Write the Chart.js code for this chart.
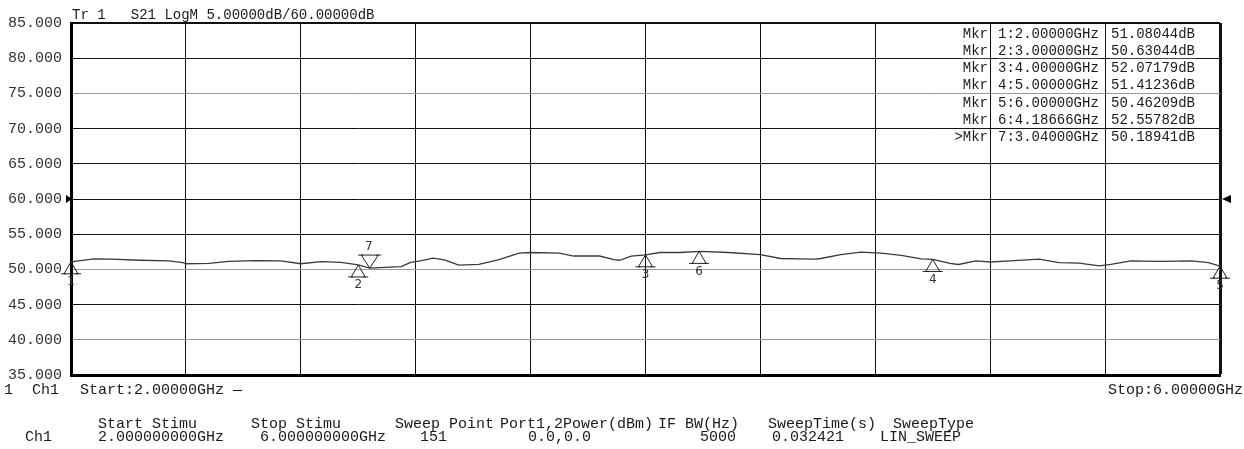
<!DOCTYPE html>
<html>
<head>
<meta charset="utf-8">
<script src="https://cdn.jsdelivr.net/npm/chart.js@4/dist/chart.umd.min.js"></script>
<style>
  html, body { margin: 0; padding: 0; background: #fff; }
  canvas { display: block; }
</style>
</head>
<body>
<canvas id="vnaChart" width="1244" height="449"></canvas>
<script>
// trace S21 (GHz / dB)
const freqGHz = [2.00, 2.08, 2.14, 2.24, 2.34, 2.39, 2.40, 2.48, 2.55, 2.64, 2.73, 2.80, 2.87, 2.94, 3.00, 3.04,
  3.11, 3.15, 3.18, 3.22, 3.26, 3.30, 3.35, 3.42, 3.49, 3.56, 3.60, 3.70, 3.75, 3.84, 3.89, 3.91, 3.95, 4.00,
  4.05, 4.12, 4.19, 4.29, 4.40, 4.47, 4.54, 4.59, 4.61, 4.68, 4.75, 4.82, 4.89, 4.96, 5.00, 5.06, 5.09, 5.15,
  5.20, 5.27, 5.37, 5.44, 5.51, 5.58, 5.62, 5.69, 5.79, 5.90, 5.96, 6.00];
const traceDb = [51.08, 51.5, 51.45, 51.3, 51.2, 50.95, 50.8, 50.85, 51.15, 51.25, 51.2, 50.8, 51.1, 51.0, 50.63, 50.19,
  50.33, 50.4, 50.95, 51.25, 51.6, 51.35, 50.6, 50.7, 51.4, 52.3, 52.4, 52.3, 51.9, 51.9, 51.4, 51.3, 51.9, 52.07,
  52.4, 52.4, 52.56, 52.4, 52.1, 51.55, 51.5, 51.45, 51.55, 52.1, 52.45, 52.3, 52.0, 51.5, 51.41, 50.85, 50.7, 51.2,
  51.05, 51.2, 51.45, 50.95, 50.9, 50.5, 50.7, 51.2, 51.15, 51.2, 50.95, 50.46];

// markers
const markerNums = [1, 2, 3, 4, 5, 6, 7];
const markerFreq = [2.0, 3.0, 4.0, 5.0, 6.0, 4.18666, 3.04];
const markerDb = [51.08044, 50.63044, 52.07179, 51.41236, 50.46209, 52.55782, 50.18941];
const activeMarker = 7;

// axes
const yMin = 35, yMax = 85, yStep = 5;
const xMin = 2, xMax = 6, xStep = 0.4;
const refLevel = 60;

const titleText = 'Tr 1   S21 LogM 5.00000dB/60.00000dB';
const startText = 'Start:2.00000GHz —';
const stopText = 'Stop:6.00000GHz';
const infoHeads = ['Start Stimu', 'Stop Stimu', 'Sweep Point', 'Port1,2Power(dBm)', 'IF BW(Hz)', 'SweepTime(s)', 'SweepType'];
const infoVals = ['2.000000000GHz', '6.000000000GHz', '151', '0.0,0.0', '5000', '0.032421', 'LIN_SWEEP'];

const MONO = '"Liberation Mono", "DejaVu Sans Mono", monospace';
const lightRows = [75, 50, 40];

function triangle(ctx, x, y, w, h, up) {
  // apex sits on (x, y)
  const d = up ? 1 : -1;
  ctx.beginPath();
  ctx.moveTo(x, y);
  ctx.lineTo(x - w / 2, y + d * h);
  ctx.lineTo(x + w / 2, y + d * h);
  ctx.closePath();
  ctx.stroke();
  ctx.beginPath();
  ctx.moveTo(x - w / 2 - 3, y + d * h);
  ctx.lineTo(x - w / 2 + 2, y + d * h);
  ctx.moveTo(x + w / 2 - 2, y + d * h);
  ctx.lineTo(x + w / 2 + 3, y + d * h);
  ctx.stroke();
}

const vnaPlugin = {
  id: 'vna',
  beforeDraw(chart) {
    const ctx = chart.ctx;
    ctx.save();
    ctx.fillStyle = '#fff';
    ctx.fillRect(0, 0, chart.width, chart.height);
    ctx.restore();
  },
  afterDatasetsDraw(chart) {
    const ctx = chart.ctx;
    const xs = chart.scales.x, ys = chart.scales.y;
    const area = chart.chartArea;
    ctx.save();

    // marker triangles + numbers
    ctx.strokeStyle = '#222';
    ctx.lineWidth = 1;
    ctx.fillStyle = '#333';
    ctx.font = '12px "DejaVu Sans", sans-serif';
    ctx.textAlign = 'center';
    ctx.textBaseline = 'middle';
    markerNums.forEach((n, i) => {
      const px = xs.getPixelForValue(markerFreq[i]);
      const py = ys.getPixelForValue(markerDb[i]);
      if (n === activeMarker) {
        triangle(ctx, px, py, 17, 13, false);
        ctx.fillText(String(n), px - 1, py - 21);
      } else {
        triangle(ctx, px, py, 14, 12, true);
        ctx.fillText(String(n), px, py + 20);
      }
    });

    // reference level arrows
    const ry = ys.getPixelForValue(refLevel);
    ctx.fillStyle = '#000';
    ctx.beginPath();
    ctx.moveTo(area.left + 1, ry);
    ctx.lineTo(area.left - 5, ry - 4);
    ctx.lineTo(area.left - 5, ry + 4);
    ctx.closePath();
    ctx.fill();
    ctx.beginPath();
    ctx.moveTo(area.right + 2, ry);
    ctx.lineTo(area.right + 11, ry - 4);
    ctx.lineTo(area.right + 11, ry + 4);
    ctx.closePath();
    ctx.fill();

    // title
    ctx.fillStyle = '#1a1a1a';
    ctx.textAlign = 'left';
    ctx.font = '14px ' + MONO;
    ctx.fillText(titleText, area.left + 1, 15);

    // marker table (white boxes hide the grid)
    markerNums.forEach((n, i) => {
      const ty = 34 + i * 17.2;
      const label = (n === activeMarker ? '>' : '') + 'Mkr';
      const stim = n + ':' + markerFreq[i].toFixed(5) + 'GHz';
      const resp = markerDb[i].toFixed(5) + 'dB';
      const parts = [[label, 988, 'right'], [stim, 998, 'left'], [resp, 1111, 'left']];
      parts.forEach(([t, px, al]) => {
        const w = ctx.measureText(t).width;
        const x0 = al === 'right' ? px - w : px;
        ctx.fillStyle = '#fff';
        ctx.fillRect(x0 - 1, ty - 7, w + 2, 14);
        ctx.fillStyle = '#1a1a1a';
        ctx.textAlign = al;
        ctx.fillText(t, px, ty);
      });
    });

    // channel line under the grid
    ctx.font = '15px ' + MONO;
    ctx.textAlign = 'left';
    ctx.fillText('1', 4, 390);
    ctx.fillText('Ch1', 32, 390);
    ctx.fillText(startText, 80, 390);
    ctx.textAlign = 'right';
    ctx.fillText(stopText, 1243, 390);

    // setup table
    ctx.textAlign = 'left';
    ctx.fillText('Ch1', 25, 437);
    const headX = [98, 251, 395, 500, 658, 768, 893];
    const valX = [98, 260, 420, 528, 700, 772, 880];
    infoHeads.forEach((h, i) => {
      ctx.fillText(h, headX[i], 424);
      ctx.fillText(infoVals[i], valX[i], 437);
    });
    ctx.restore();
  }
};

const ctx = document.getElementById('vnaChart').getContext('2d');
const vnaChart = new Chart(ctx, {
  type: 'line',
  data: {
    datasets: [{
      label: 'S21',
      data: freqGHz.map((f, i) => ({ x: f, y: traceDb[i] })),
      borderColor: '#3a3a3a',
      borderWidth: 1.3,
      pointRadius: 0,
      tension: 0,
      fill: false
    }]
  },
  options: {
    responsive: false,
    animation: false,
    devicePixelRatio: 1,
    layout: { padding: { top: 23, right: 24, bottom: 74, left: 0 } },
    plugins: {
      legend: { display: false },
      tooltip: { enabled: false }
    },
    scales: {
      x: {
        type: 'linear',
        min: xMin,
        max: xMax,
        afterFit: (s) => { s.height = 0; },
        ticks: { display: false, stepSize: xStep },
        grid: {
          color: '#111',
          lineWidth: (c) => (c.index === 10 ? 3 : 1),
          drawTicks: false
        },
        border: { display: true, color: '#000', width: 3 }
      },
      y: {
        min: yMin,
        max: yMax,
        afterFit: (s) => { s.width = 71; },
        ticks: {
          stepSize: yStep,
          padding: 9,
          color: '#333',
          font: { family: MONO, size: 15 },
          callback: (v) => v.toFixed(3)
        },
        grid: {
          color: (c) => (c.tick && lightRows.includes(c.tick.value) ? '#9a9a9a' : '#111'),
          lineWidth: (c) => (c.tick && c.tick.value === yMax ? 2 : 1),
          drawTicks: false
        },
        border: { display: true, color: '#000', width: 3 }
      }
    }
  },
  plugins: [vnaPlugin]
});
</script>
</body>
</html>
